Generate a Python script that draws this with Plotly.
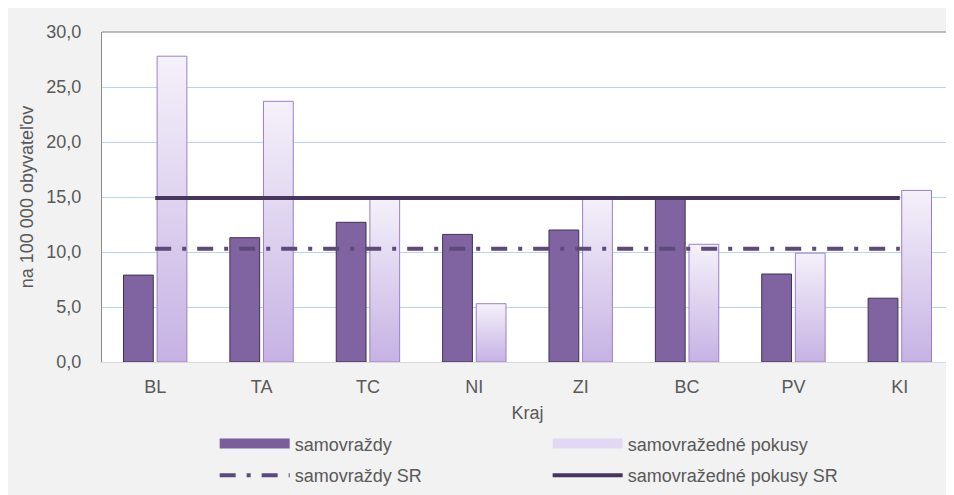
import plotly.graph_objects as go

categories = ["BL", "TA", "TC", "NI", "ZI", "BC", "PV", "KI"]
samovrazdy = [7.9, 11.3, 12.7, 11.6, 12.0, 14.9, 8.0, 5.8]
pokusy = [27.8, 23.7, 15.0, 5.3, 15.0, 10.7, 9.9, 15.6]
samovrazdy_sr = 10.3
pokusy_sr = 14.9
y_ticks = [0, 5, 10, 15, 20, 25, 30]

FONT = "Liberation Sans"
TXT = "#595959"
FS = 18
BAR_W = 0.28
OFF = 0.158

idx = list(range(len(categories)))
fig = go.Figure()

# dark bars
fig.add_trace(go.Bar(
    x=[i - OFF for i in idx], y=samovrazdy, width=BAR_W,
    marker=dict(color="#8064a2", line=dict(color="#3f3151", width=1)),
    showlegend=False, hoverinfo="skip"))

# light bars with vertical gradient, one polygon per bar
for i, v in zip(idx, pokusy):
    x0, x1 = i + OFF - BAR_W / 2, i + OFF + BAR_W / 2
    fig.add_trace(go.Scatter(
        x=[x0, x1, x1, x0, x0], y=[0, 0, v, v, 0], mode="lines",
        fill="toself",
        fillgradient=dict(type="vertical",
                          colorscale=[[0, "#c6b2e4"], [1, "#f5f1fa"]]),
        line=dict(color="#9b80c6", width=1),
        showlegend=False, hoverinfo="skip"))

# SR lines
fig.add_trace(go.Scatter(
    x=idx, y=[samovrazdy_sr] * len(idx), mode="lines",
    line=dict(color="#5c4a7b", width=4, dash="16px,11px,4px,11px"),
    name="samovraždy SR", legend="legend2"))
fig.add_trace(go.Scatter(
    x=idx, y=[pokusy_sr] * len(idx), mode="lines",
    line=dict(color="#46365e", width=4),
    name="samovražedné pokusy SR", legend="legend2"))

# legend proxies for bars
fig.add_trace(go.Scatter(
    x=[None], y=[None], mode="lines",
    line=dict(color="#7a5e9c", width=10), name="samovraždy", legend="legend"))
fig.add_trace(go.Scatter(
    x=[None], y=[None], mode="lines",
    line=dict(color="#e2d8f3", width=10), name="samovražedné pokusy",
    legend="legend"))

leg_common = dict(orientation="h", xanchor="left", yanchor="middle",
                  x=0.1324, entrywidth=248, entrywidthmode="pixels",
                  itemwidth=70, bgcolor="rgba(0,0,0,0)",
                  font=dict(family=FONT, size=FS, color=TXT),
                  traceorder="normal")

fig.update_layout(
    width=946, height=487,
    margin=dict(l=94, r=1, t=24, b=133, autoexpand=False),
    paper_bgcolor="#f2f2f2", plot_bgcolor="#ffffff",
    font=dict(family=FONT, size=FS, color=TXT),
    separators=", ",
    barmode="overlay",
    legend=dict(**leg_common, y=-0.248),
    legend2=dict(**leg_common, y=-0.344),
    xaxis=dict(range=[-0.5, len(categories) - 0.5], tickvals=idx,
               ticktext=categories, showgrid=False, zeroline=False,
               showline=True, linecolor="#d9d9d9", linewidth=1,
               ticks="", ticklabelstandoff=8,
               title=dict(text="Kraj", font=dict(size=FS, color=TXT),
                          standoff=10)),
    yaxis=dict(range=[0, 30], tickvals=y_ticks, tickformat=".1f",
               showgrid=True, gridcolor="#b9d5ee", gridwidth=1,
               zeroline=False, showline=True, mirror=True,
               linecolor="#8c8c8c", linewidth=1, ticks="",
               ticklabelstandoff=16,
               title=dict(text="na 100 000 obyvateľov",
                          font=dict(size=FS, color=TXT), standoff=8)),
    shapes=[dict(type="line", xref="paper", yref="paper", x0=0, x1=1,
                 y0=1, y1=1, line=dict(color="#7f7f7f", width=1))],
)

fig.write_html("out.html")
